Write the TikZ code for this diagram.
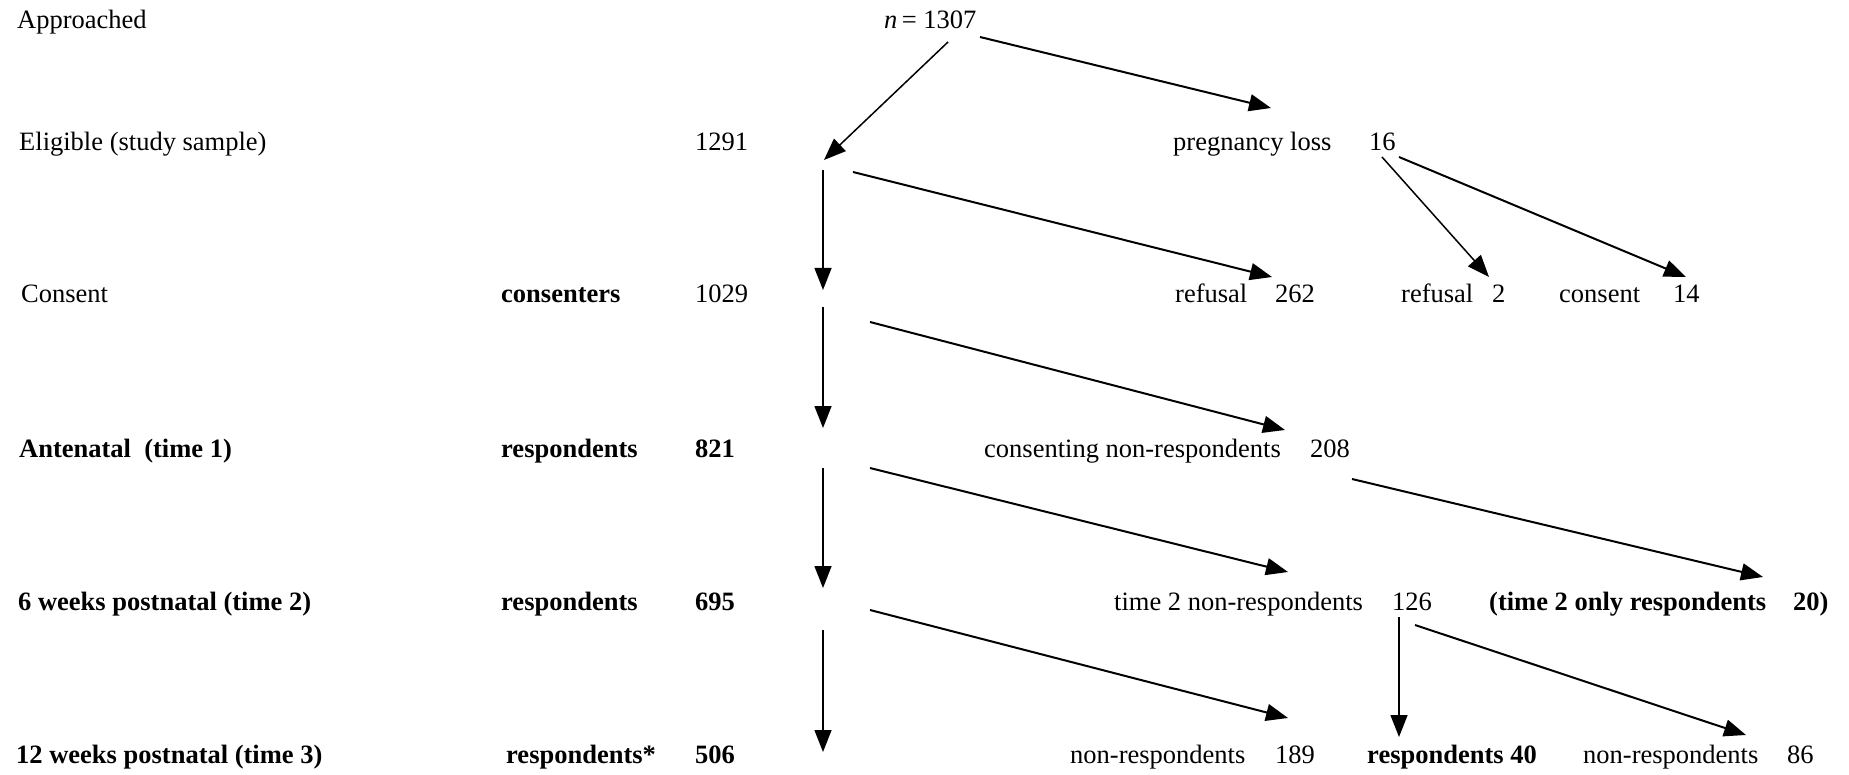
\documentclass[tikz,border=0pt]{standalone}
\usepackage{fontspec}
\setmainfont{Liberation Serif}
\usetikzlibrary{arrows.meta}
\begin{document}
\begin{tikzpicture}[x=1pt,y=-1pt,
  lbl/.style={anchor=base west,inner sep=0pt,font=\fontsize{26.5}{30}\selectfont},
  blbl/.style={anchor=base west,inner sep=0pt,font=\fontsize{26.5}{30}\selectfont\bfseries},
  arr/.style={-{Triangle[length=22pt,width=17pt]},line width=2pt},
  tarr/.style={-{Triangle[length=22pt,width=17pt]},line width=1.5pt}]
\fill[white] (0,0) rectangle (1849,775);
\useasboundingbox (0,0) rectangle (1849,775);
% row 0
\node[lbl] (appr) at (17,29) {Approached};
\node[lbl] (n1307) at (884,29) {\textit{n}\,= 1307};
% row 1
\node[lbl] (elig) at (19,151) {Eligible (study sample)};
\node[lbl] (n1291) at (695,151) {1291};
\node[lbl] (preg) at (1173,151) {pregnancy loss};
\node[lbl] (n16) at (1369,151) {16};
% row 2
\node[lbl] (cons) at (21,303) {Consent};
\node[blbl] (consr) at (501,303) {consenters};
\node[lbl] (n1029) at (695,303) {1029};
\node[lbl] (ref1) at (1175,303) {refusal};
\node[lbl] (n262) at (1275,303) {262};
\node[lbl] (ref2) at (1401,303) {refusal};
\node[lbl] (n2) at (1492,303) {2};
\node[lbl] (cons2) at (1559,303) {consent};
\node[lbl] (n14) at (1673,303) {14};
% row 3
\node[blbl] (ante) at (19,457) {Antenatal~~(time 1)};
\node[blbl] (resp1) at (501,457) {respondents};
\node[blbl] (n821) at (695,457) {821};
\node[lbl] (cnr) at (984,457) {consenting non-respondents};
\node[lbl] (n208) at (1310,457) {208};
% row 4
\node[blbl] (six) at (18,610) {6 weeks postnatal (time 2)};
\node[blbl] (resp2) at (501,610) {respondents};
\node[blbl] (n695) at (695,610) {695};
\node[lbl] (t2nr) at (1114,610) {time 2 non-respondents};
\node[lbl] (n126) at (1392,610) {126};
\node[blbl] (t2o) at (1489,610) {(time 2 only respondents};
\node[blbl] (n20) at (1793,610) {20)};
% row 5
\node[blbl] (twelve) at (16,763) {12 weeks postnatal (time 3)};
\node[blbl] (resp3) at (506,763) {respondents*};
\node[blbl] (n506) at (695,763) {506};
\node[lbl] (nr1) at (1070,763) {non-respondents};
\node[lbl] (n189) at (1275,763) {189};
\node[blbl] (r40) at (1367,763) {respondents 40};
\node[lbl] (nr2) at (1583,763) {non-respondents};
\node[lbl] (n86) at (1787,763) {86};
% connector ends
\coordinate (a1s) at (948,42);  \coordinate (a1e) at (824,160);
\coordinate (a2s) at (980,37);  \coordinate (a2e) at (1271,108);
\coordinate (v1s) at (823,170); \coordinate (v1e) at (823,290);
\coordinate (v2s) at (823,307); \coordinate (v2e) at (823,428);
\coordinate (v3s) at (823,468); \coordinate (v3e) at (823,588);
\coordinate (v4s) at (823,630); \coordinate (v4e) at (823,752);
\coordinate (d1s) at (853,172); \coordinate (d1e) at (1272,277);
\coordinate (d2s) at (870,322); \coordinate (d2e) at (1285,430);
\coordinate (d3s) at (870,468); \coordinate (d3e) at (1288,572);
\coordinate (d4s) at (870,610); \coordinate (d4e) at (1288,718);
\coordinate (p1s) at (1382,157); \coordinate (p1e) at (1489,277);
\coordinate (p2s) at (1399,157); \coordinate (p2e) at (1686,277);
\coordinate (q1s) at (1352,479); \coordinate (q1e) at (1763,577);
\coordinate (r1s) at (1399,617); \coordinate (r1e) at (1399,737);
\coordinate (r2s) at (1415,625); \coordinate (r2e) at (1746,735);
% connectors
\draw[tarr] (a1s) -- (a1e);
\draw[arr] (a2s) -- (a2e);
\draw[tarr] (v1s) -- (v1e);
\draw[tarr] (v2s) -- (v2e);
\draw[tarr] (v3s) -- (v3e);
\draw[tarr] (v4s) -- (v4e);
\draw[arr] (d1s) -- (d1e);
\draw[arr] (d2s) -- (d2e);
\draw[arr] (d3s) -- (d3e);
\draw[arr] (d4s) -- (d4e);
\draw[tarr] (p1s) -- (p1e);
\draw[arr] (p2s) -- (p2e);
\draw[arr] (q1s) -- (q1e);
\draw[tarr] (r1s) -- (r1e);
\draw[arr] (r2s) -- (r2e);
\end{tikzpicture}
\end{document}
